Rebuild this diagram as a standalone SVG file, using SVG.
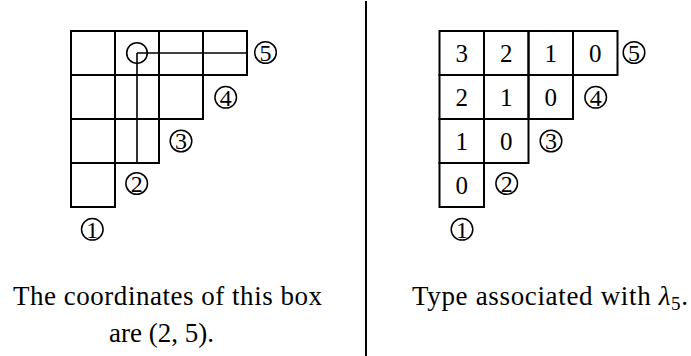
<svg xmlns="http://www.w3.org/2000/svg" width="691" height="356" viewBox="0 0 691 356">
<style>
  .cell { fill: none; stroke: #000; stroke-width: 2; }
  .hook { fill: none; stroke: #000; stroke-width: 1.6; }
  .ring { fill: none; stroke: #000; stroke-width: 1.5; }
  .num { font-family: 'Liberation Serif', serif; font-size: 25px; text-anchor: middle; }
  .rnum { font-family: 'Liberation Serif', serif; font-size: 24px; text-anchor: middle; }
  .cap { font-family: 'Liberation Serif', serif; font-size: 27px; }
</style>
<rect width="691" height="356" fill="#fff"/>

<g id="left-diagram">
  <g id="left-cells">
    <rect class="cell" x="71" y="31" width="44" height="44"/>
    <rect class="cell" x="115" y="31" width="44" height="44"/>
    <rect class="cell" x="159" y="31" width="44" height="44"/>
    <rect class="cell" x="203" y="31" width="44" height="44"/>
    <rect class="cell" x="71" y="75" width="44" height="44"/>
    <rect class="cell" x="115" y="75" width="44" height="44"/>
    <rect class="cell" x="159" y="75" width="44" height="44"/>
    <rect class="cell" x="71" y="119" width="44" height="44"/>
    <rect class="cell" x="115" y="119" width="44" height="44"/>
    <rect class="cell" x="71" y="163" width="44" height="44"/>
  </g>
  <g id="left-hook">
    <circle class="hook" cx="137" cy="53" r="10.3"/>
    <path class="hook" d="M137 53 H247 M137 53 V163"/>
  </g>
  <g id="left-labels">
    <g id="L5"><circle class="ring" cx="265.5" cy="52.5" r="10.8"/><text class="rnum" x="265.5" y="60.7">5</text></g>
    <g id="L4"><circle class="ring" cx="225.7" cy="97.3" r="10.8"/><text class="rnum" x="225.7" y="105.5">4</text></g>
    <g id="L3"><circle class="ring" cx="181" cy="141" r="10.8"/><text class="rnum" x="181" y="149.2">3</text></g>
    <g id="L2"><circle class="ring" cx="136.7" cy="183.5" r="10.8"/><text class="rnum" x="136.7" y="191.7">2</text></g>
    <g id="L1"><circle class="ring" cx="92.3" cy="229.3" r="10.8"/><text class="rnum" x="92.3" y="237.5">1</text></g>
  </g>
  <text class="cap" x="167.5" y="305" text-anchor="middle" textLength="309" lengthAdjust="spacing">The coordinates of this box</text>
  <text class="cap" x="161.5" y="342" text-anchor="middle">are (2, 5).</text>
</g>

<g id="connectors">
  <line x1="366" y1="1" x2="366" y2="356" stroke="#000" stroke-width="2"/>
</g>

<g id="right-diagram">
  <g id="right-cells">
    <rect class="cell" x="439.5" y="31" width="44.5" height="44"/>
    <rect class="cell" x="484" y="31" width="44.5" height="44"/>
    <rect class="cell" x="528.5" y="31" width="44.5" height="44"/>
    <rect class="cell" x="573" y="31" width="44.5" height="44"/>
    <rect class="cell" x="439.5" y="75" width="44.5" height="44"/>
    <rect class="cell" x="484" y="75" width="44.5" height="44"/>
    <rect class="cell" x="528.5" y="75" width="44.5" height="44"/>
    <rect class="cell" x="439.5" y="119" width="44.5" height="44"/>
    <rect class="cell" x="484" y="119" width="44.5" height="44"/>
    <rect class="cell" x="439.5" y="163" width="44.5" height="44"/>
  </g>
  <g id="right-values">
    <text class="num" x="461.7" y="61.5">3</text>
    <text class="num" x="506.2" y="61.5">2</text>
    <text class="num" x="550.7" y="61.5">1</text>
    <text class="num" x="595.2" y="61.5">0</text>
    <text class="num" x="461.7" y="105.5">2</text>
    <text class="num" x="506.2" y="105.5">1</text>
    <text class="num" x="550.7" y="105.5">0</text>
    <text class="num" x="461.7" y="149.5">1</text>
    <text class="num" x="506.2" y="149.5">0</text>
    <text class="num" x="461.7" y="193.5">0</text>
  </g>
  <g id="right-labels">
    <g id="R5"><circle class="ring" cx="634" cy="52.5" r="10.8"/><text class="rnum" x="634" y="60.7">5</text></g>
    <g id="R4"><circle class="ring" cx="595.7" cy="97.3" r="10.8"/><text class="rnum" x="595.7" y="105.5">4</text></g>
    <g id="R3"><circle class="ring" cx="551" cy="141" r="10.8"/><text class="rnum" x="551" y="149.2">3</text></g>
    <g id="R2"><circle class="ring" cx="506.7" cy="183.5" r="10.8"/><text class="rnum" x="506.7" y="191.7">2</text></g>
    <g id="R1"><circle class="ring" cx="462" cy="229.3" r="10.8"/><text class="rnum" x="462" y="237.5">1</text></g>
  </g>
  <text class="cap" x="412" y="305" textLength="276" lengthAdjust="spacing">Type associated with <tspan font-style="italic">λ</tspan><tspan font-size="19" dy="5">5</tspan><tspan dy="-5">.</tspan></text>
</g>
</svg>
